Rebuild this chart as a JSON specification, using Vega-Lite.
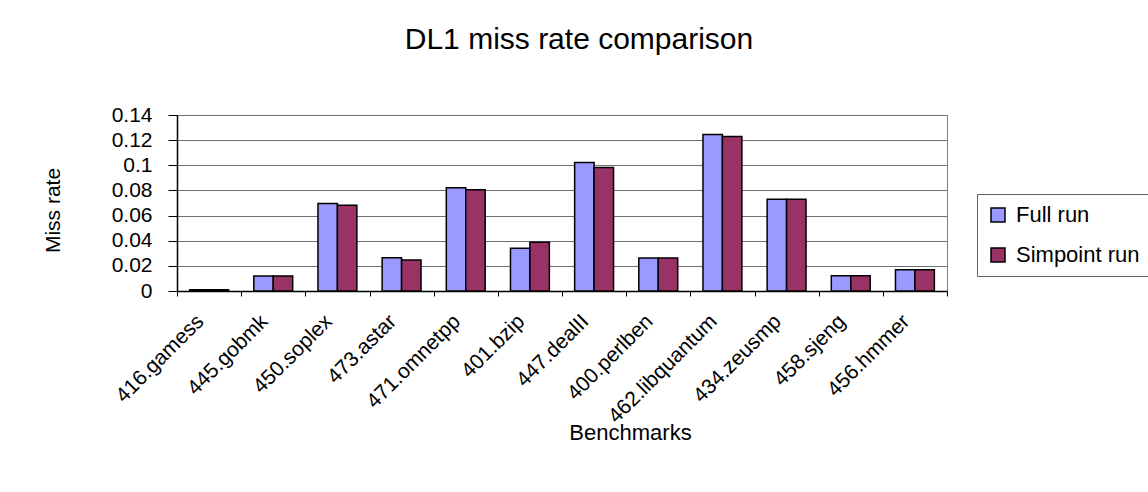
{
  "$schema": "https://vega.github.io/schema/vega-lite/v6.json",
  "width": 770,
  "height": 176,
  "autosize": {"type": "none"},
  "padding": {"left": 177, "top": 115, "right": 201, "bottom": 201},
  "background": "white",
  "title": {
    "text": "DL1 miss rate comparison",
    "font": "Liberation Sans",
    "fontSize": 30,
    "fontWeight": "normal",
    "color": "black",
    "anchor": "middle",
    "baseline": "alphabetic",
    "dx": 17,
    "offset": 25
  },
  "config": {
    "font": "Liberation Sans",
    "view": {"stroke": "#808080", "strokeWidth": 1}
  },
  "data": {
    "values": [
      {"benchmark": "416.gamess", "run": "Full run", "rate": 0.001},
      {"benchmark": "416.gamess", "run": "Simpoint run", "rate": 0.001},
      {"benchmark": "445.gobmk", "run": "Full run", "rate": 0.012},
      {"benchmark": "445.gobmk", "run": "Simpoint run", "rate": 0.012},
      {"benchmark": "450.soplex", "run": "Full run", "rate": 0.0697},
      {"benchmark": "450.soplex", "run": "Simpoint run", "rate": 0.0682},
      {"benchmark": "473.astar", "run": "Full run", "rate": 0.0264},
      {"benchmark": "473.astar", "run": "Simpoint run", "rate": 0.0246},
      {"benchmark": "471.omnetpp", "run": "Full run", "rate": 0.0822},
      {"benchmark": "471.omnetpp", "run": "Simpoint run", "rate": 0.0806},
      {"benchmark": "401.bzip", "run": "Full run", "rate": 0.0341},
      {"benchmark": "401.bzip", "run": "Simpoint run", "rate": 0.0388},
      {"benchmark": "447.dealII", "run": "Full run", "rate": 0.1022},
      {"benchmark": "447.dealII", "run": "Simpoint run", "rate": 0.0983},
      {"benchmark": "400.perlben", "run": "Full run", "rate": 0.0262},
      {"benchmark": "400.perlben", "run": "Simpoint run", "rate": 0.0262},
      {"benchmark": "462.libquantum", "run": "Full run", "rate": 0.1244},
      {"benchmark": "462.libquantum", "run": "Simpoint run", "rate": 0.1229},
      {"benchmark": "434.zeusmp", "run": "Full run", "rate": 0.0729},
      {"benchmark": "434.zeusmp", "run": "Simpoint run", "rate": 0.0729},
      {"benchmark": "458.sjeng", "run": "Full run", "rate": 0.0122},
      {"benchmark": "458.sjeng", "run": "Simpoint run", "rate": 0.0122},
      {"benchmark": "456.hmmer", "run": "Full run", "rate": 0.0169},
      {"benchmark": "456.hmmer", "run": "Simpoint run", "rate": 0.0169}
    ]
  },
  "mark": {"type": "bar", "stroke": "black", "strokeWidth": 1.5},
  "encoding": {
    "x": {
      "field": "benchmark",
      "type": "nominal",
      "sort": null,
      "title": "Benchmarks",
      "scale": {"paddingInner": 0, "paddingOuter": 0},
      "axis": {
        "labelAngle": -45,
        "labelAlign": "right",
        "labelBaseline": "middle",
        "labelOffset": -9,
        "labelPadding": 22,
        "labelFontSize": 21,
        "labelColor": "black",
        "labelFont": "Liberation Sans",
        "tickBand": "extent",
        "tickSize": 5,
        "tickColor": "black",
        "domainColor": "black",
        "domainWidth": 1.5,
        "grid": false,
        "titleX": 453,
        "titleY": 148,
        "titleBaseline": "alphabetic",
        "titleAlign": "center",
        "titleFontSize": 22,
        "titleFontWeight": "normal",
        "titleColor": "black",
        "titleFont": "Liberation Sans"
      }
    },
    "xOffset": {
      "field": "run",
      "type": "nominal",
      "sort": ["Full run", "Simpoint run"],
      "scale": {"paddingInner": 0, "paddingOuter": 0.65}
    },
    "y": {
      "field": "rate",
      "type": "quantitative",
      "title": "Miss rate",
      "scale": {"domain": [0, 0.14], "nice": false},
      "axis": {
        "values": [0, 0.02, 0.04, 0.06, 0.08, 0.1, 0.12, 0.14],
        "format": "~g",
        "labelFontSize": 21,
        "labelColor": "black",
        "labelFont": "Liberation Sans",
        "labelPadding": 16,
        "tickSize": 9,
        "tickColor": "black",
        "domainColor": "black",
        "domainWidth": 1.5,
        "grid": true,
        "gridColor": "#707070",
        "gridWidth": 1.2,
        "titleX": -124,
        "titleY": 95,
        "titleAngle": -90,
        "titleAlign": "center",
        "titleBaseline": "middle",
        "titleFontSize": 21,
        "titleFontWeight": "normal",
        "titleColor": "black",
        "titleFont": "Liberation Sans"
      }
    },
    "color": {
      "field": "run",
      "type": "nominal",
      "scale": {"domain": ["Full run", "Simpoint run"], "range": ["#9999FF", "#993366"]},
      "legend": {
        "title": null,
        "orient": "none",
        "legendX": 800,
        "legendY": 79,
        "symbolType": "square",
        "symbolSize": 196,
        "symbolStrokeColor": "black",
        "symbolStrokeWidth": 1.5,
        "symbolOpacity": 1,
        "labelFontSize": 22,
        "labelColor": "black",
        "labelFont": "Liberation Sans",
        "labelOffset": 7,
        "rowPadding": 18,
        "padding": 10,
        "strokeColor": "#606060",
        "fillColor": "white"
      }
    }
  }
}
